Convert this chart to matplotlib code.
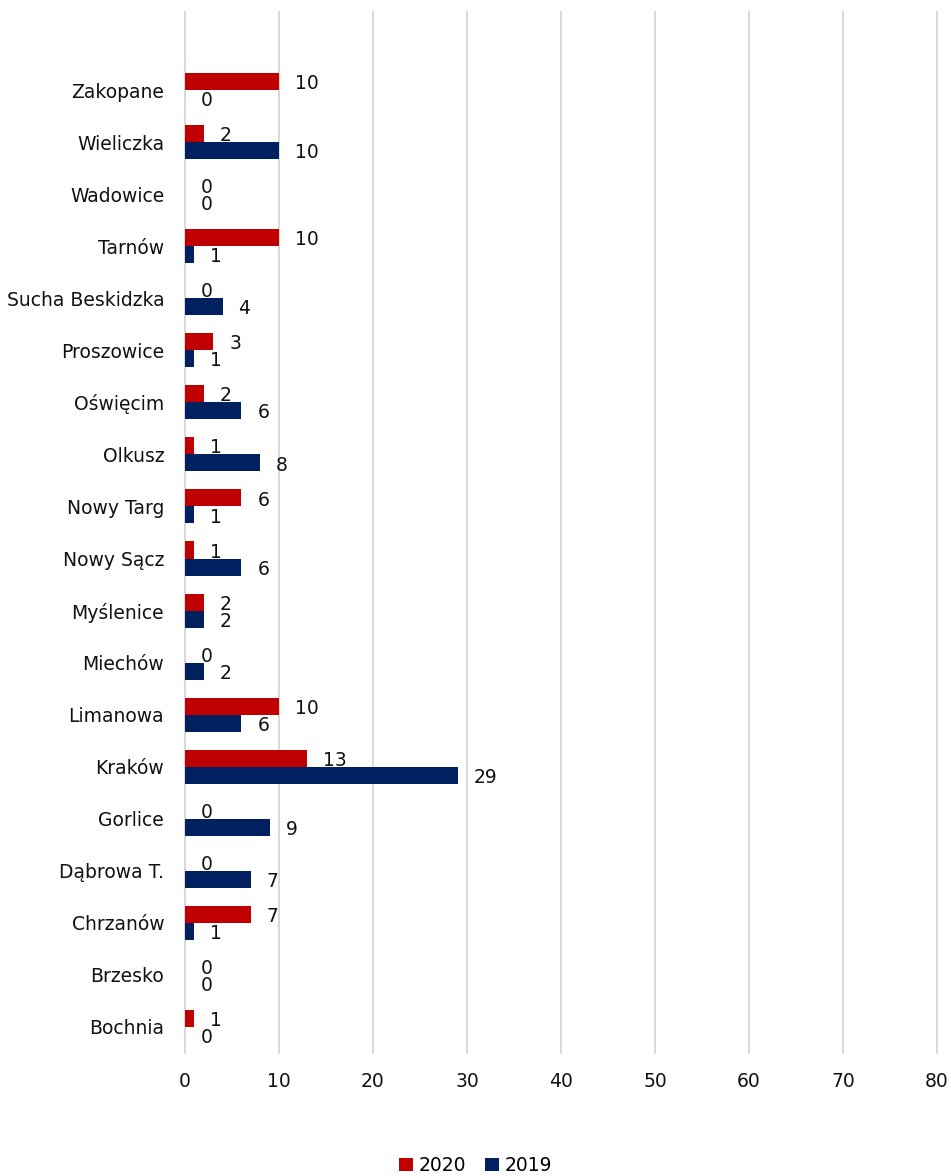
import numpy as np
import matplotlib
matplotlib.use("Agg")
import matplotlib.pyplot as plt

# categories listed bottom -> top
cities = ["Bochnia", "Brzesko", "Chrzanów", "Dąbrowa T.", "Gorlice", "Kraków",
          "Limanowa", "Miechów", "Myślenice", "Nowy Sącz", "Nowy Targ", "Olkusz",
          "Oświęcim", "Proszowice", "Sucha Beskidzka", "Tarnów", "Wadowice",
          "Wieliczka", "Zakopane"]
v2020 = [1, 0, 7, 0, 0, 13, 10, 0, 2, 1, 6, 1, 2, 3, 0, 10, 0, 2, 10]
v2019 = [0, 0, 1, 7, 9, 29, 6, 2, 2, 6, 1, 8, 6, 1, 4, 1, 0, 10, 0]
xticks = [0, 10, 20, 30, 40, 50, 60, 70, 80]

RED = "#C00000"
NAVY = "#002060"
FS = 13.5

plt.rcParams["font.family"] = ["DejaVu Sans"]

fig = plt.figure(figsize=(9.51, 11.76), dpi=100)
ax = fig.add_axes([0.1945, 0.1046, 0.7908, 0.8852])

y = np.arange(len(cities))
h = 0.327
b20 = ax.barh(y + h / 2, v2020, height=h, color=RED, label="2020", zorder=3)
b19 = ax.barh(y - h / 2, v2019, height=h, color=NAVY, label="2019", zorder=3)

for bars, vals in ((b20, v2020), (b19, v2019)):
    for bar, v in zip(bars, vals):
        ax.annotate(str(v), (v, bar.get_y() + bar.get_height() / 2),
                    xytext=(11.5, -1.5), textcoords="offset points",
                    ha="left", va="center", fontsize=FS, color="#111111")

ax.set_xlim(0, 80)
ax.set_ylim(-0.5, 19.5)
ax.set_xticks(xticks)
ax.set_yticks(y)
ax.set_yticklabels(cities)
ax.tick_params(axis="both", length=0, labelsize=FS, colors="#111111")
ax.tick_params(axis="y", pad=15)
ax.tick_params(axis="x", pad=14)
ax.xaxis.grid(True, color="#D9D9D9", lw=1.5, zorder=0)
for gl in ax.get_xgridlines():
    gl.set_clip_on(False)
for s in ax.spines.values():
    s.set_visible(False)

fig.legend(handles=[b20, b19], loc="center", bbox_to_anchor=(0.5, 0.009),
           ncol=2, frameon=False, fontsize=FS, handlelength=0.75,
           handleheight=0.75, handletextpad=0.3, columnspacing=1.0)

fig.savefig("out.png", dpi=100)
